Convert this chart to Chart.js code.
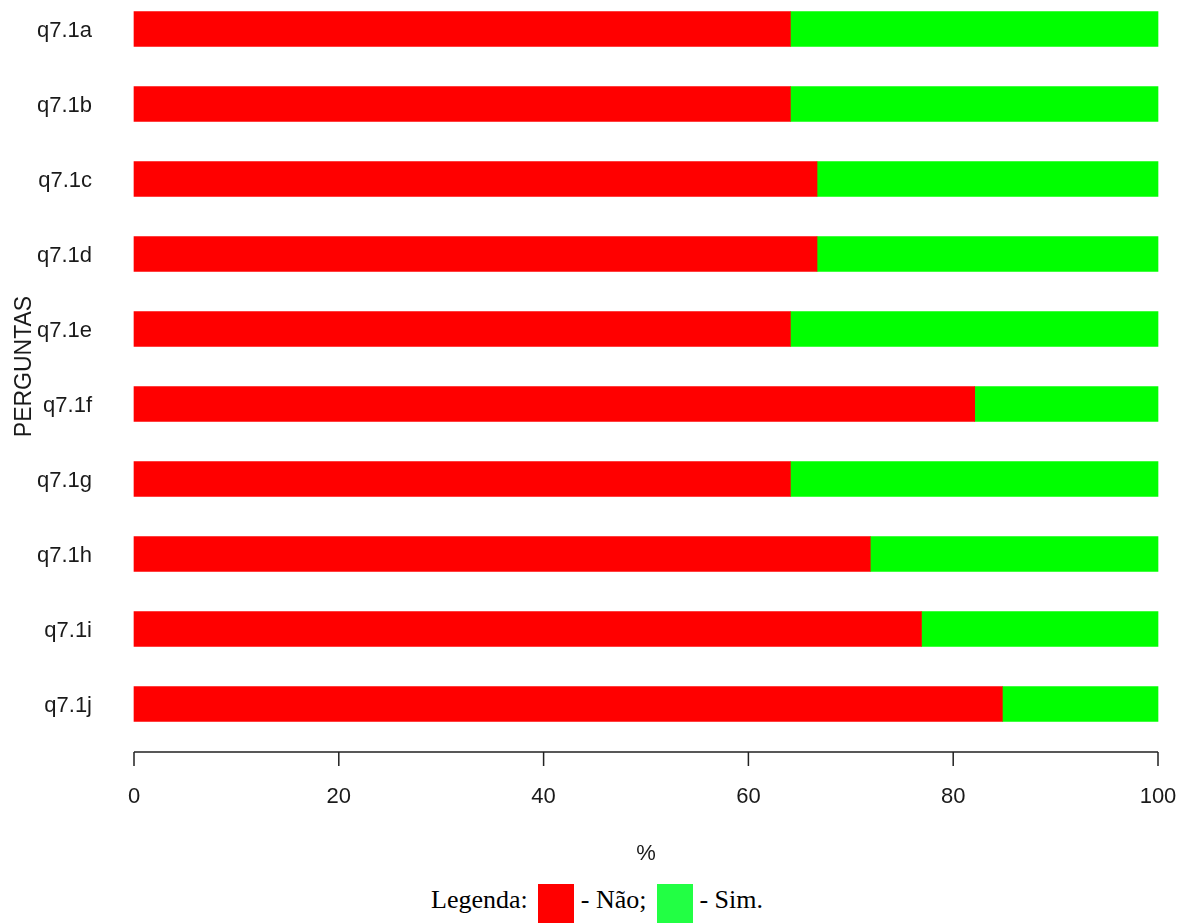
<!DOCTYPE html>
<html>
<head>
<meta charset="utf-8">
<script src="https://cdn.jsdelivr.net/npm/chart.js@4/dist/chart.umd.min.js"></script>
<style>
  body { margin:0; background:#fff; }
  #wrap { position:relative; width:1184px; height:923px; overflow:hidden; }
  #chart { position:absolute; left:0; top:0; }
  #legenda { position:absolute; left:431px; top:884px; display:flex; align-items:flex-start;
             font-family:'Liberation Serif','Times New Roman',serif; font-size:26px; color:#000; white-space:pre; }
  #legenda .txt { margin-top:1px; }
  #legenda .box { display:inline-block; width:36px; height:40px; margin-left:4px; }
</style>
</head>
<body>
<div id="wrap">
  <canvas id="chart" width="1184" height="870" style="width:1184px;height:870px"></canvas>
  <div id="legenda"><span class="txt">Legenda: </span><span class="box" style="background:#ff0000"></span><span class="txt"> - Não; </span><span class="box" style="background:#22ff44"></span><span class="txt"> - Sim.</span></div>
</div>
<script>
// perguntas e percentagens (Não / Sim)
const perguntas = ['q7.1a','q7.1b','q7.1c','q7.1d','q7.1e','q7.1f','q7.1g','q7.1h','q7.1i','q7.1j'];
const nao = [64.1, 64.1, 66.7, 66.7, 64.1, 82.1, 64.1, 71.9, 76.9, 84.8];
const sim = [35.9, 35.9, 33.3, 33.3, 35.9, 17.9, 35.9, 28.1, 23.1, 15.2];

const FONT = { family:"'Liberation Sans', Arial, sans-serif", size:22 };
const TXT = '#1a1a1a';

// eixo x ao estilo do R: linha solta abaixo das barras, só de min a max
const rAxis = {
  id:'rAxis',
  afterDraw(chart){
    const x = chart.scales.x, ctx = chart.ctx;
    const y0 = chart.chartArea.bottom + 48;
    ctx.save();
    ctx.strokeStyle = '#222'; ctx.lineWidth = 1.5;
    ctx.beginPath();
    ctx.moveTo(x.getPixelForValue(x.min), y0);
    ctx.lineTo(x.getPixelForValue(x.max), y0);
    x.ticks.forEach(t => { const px = x.getPixelForValue(t.value); ctx.moveTo(px, y0); ctx.lineTo(px, y0 + 14); });
    ctx.stroke();
    ctx.restore();
  }
};

new Chart(document.getElementById('chart'), {
  type:'bar',
  data:{ labels:perguntas, datasets:[
    { label:'Não', data:nao, backgroundColor:'#ff0000', barThickness:35, clip:false },
    { label:'Sim', data:sim, backgroundColor:'#00ff00', barThickness:35, clip:false }
  ]},
  options:{
    indexAxis:'y', responsive:false, animation:false,
    layout:{ autoPadding:false, padding:{ top:29, right:26, left:0, bottom:0 } },
    plugins:{ legend:{display:false}, tooltip:{enabled:false} },
    scales:{
      x:{ stacked:true, min:0, max:100,
          ticks:{ stepSize:20, padding:72, color:TXT, font:FONT, maxRotation:0 },
          grid:{display:false}, border:{display:false},
          title:{ display:true, text:'%', color:TXT, font:FONT, padding:{top:0, bottom:3} },
          afterFit(s){ s.height = 166; s.paddingLeft = 0; s.paddingRight = 0; } },
      y:{ stacked:true, offset:false,
          ticks:{ padding:34, labelOffset:2, color:TXT, font:FONT },
          grid:{display:false}, border:{display:false},
          title:{ display:true, text:'PERGUNTAS', color:TXT, font:{ family:FONT.family, size:23 }, padding:{top:11, bottom:0} },
          afterFit(s){ s.width = 134; s.paddingTop = 0; s.paddingBottom = 0; } }
    }
  },
  plugins:[rAxis]
});
</script>
</body>
</html>
